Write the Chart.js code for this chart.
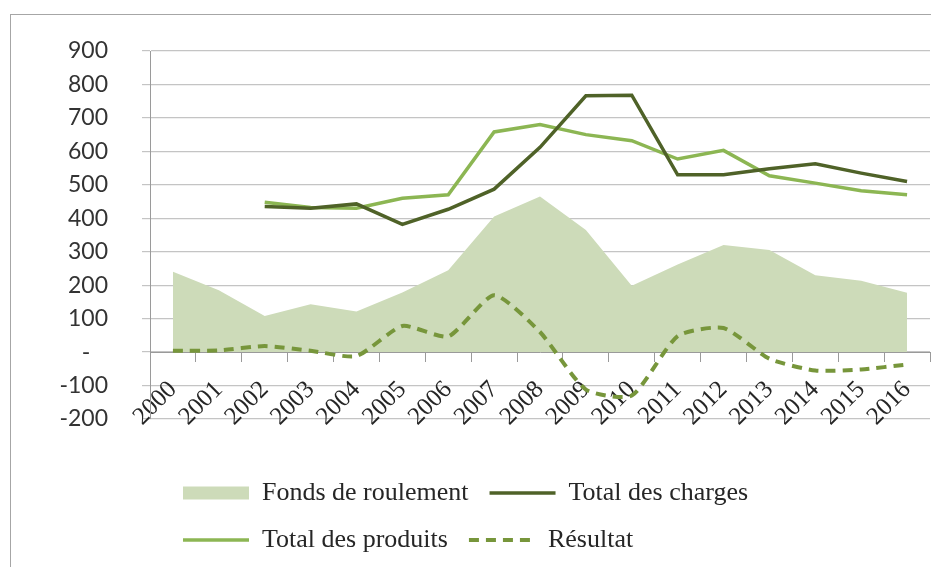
<!DOCTYPE html>
<html><head><meta charset="utf-8">
<script src="https://cdn.jsdelivr.net/npm/chart.js@4/dist/chart.umd.min.js"></script>
<style>
html,body{margin:0;padding:0;background:#fff;overflow:hidden;}
#wrap{position:relative;width:931px;height:567px;}
#frame{position:absolute;left:10px;top:14px;width:1000px;height:1000px;border:1.5px solid #a6a6a6;box-sizing:border-box;}
canvas{position:absolute;left:0;top:0;}
</style></head><body>
<div id="wrap"><div id="frame"></div><canvas id="c" width="931" height="567"></canvas></div>
<script>
const years = ['2000','2001','2002','2003','2004','2005','2006','2007','2008','2009','2010','2011','2012','2013','2014','2015','2016'];
const fondsDeRoulement = [240,185,108,143,121,178,245,405,465,365,198,262,320,305,230,213,177];
const totalDesCharges  = [null,null,435,430,443,382,427,487,612,766,768,530,530,548,563,535,510];
const totalDesProduits = [null,null,448,432,430,460,470,658,680,650,632,577,603,527,505,482,470];
const resultat         = [4,5,18,4,-12,78,47,170,60,-112,-130,48,72,-20,-55,-52,-37];
const yTicks = [-200,-100,0,100,200,300,400,500,600,700,800,900];

const legendPlace = {
  id: 'legendPlace',
  afterLayout(chart) {
    const lg = chart.legend;
    const p = lg.options.labels.padding;
    const left = 183 - p, top = 480 - p;
    lg.left = left; lg.right = left + 700; lg.width = 700;
    const h = lg.height;
    lg.top = top; lg.bottom = top + h;
  }
};

new Chart(document.getElementById('c'), {
  type: 'line',
  data: {
    labels: years,
    datasets: [
      { label: 'Fonds de roulement', data: fondsDeRoulement, fill: 'origin',
        backgroundColor: '#cddbb9', borderColor: '#cddbb9', borderWidth: 0,
        pointRadius: 0, pointStyle: 'rect', tension: 0, order: 10 },
      { label: 'Total des charges', data: totalDesCharges, fill: false,
        borderColor: '#4f6228', backgroundColor: '#4f6228', borderWidth: 3.5,
        pointRadius: 0, pointStyle: 'line', tension: 0, order: 1 },
      { label: 'Total des produits', data: totalDesProduits, fill: false,
        borderColor: '#8cb653', backgroundColor: '#8cb653', borderWidth: 3.5,
        pointRadius: 0, pointStyle: 'line', tension: 0, order: 2 },
      { label: 'Résultat', data: resultat, fill: false,
        borderColor: '#77963b', backgroundColor: '#77963b', borderWidth: 4,
        borderDash: [10, 7], pointRadius: 0, pointStyle: 'line', tension: 0.2, order: 0 }
    ]
  },
  options: {
    responsive: false,
    animation: false,
    devicePixelRatio: 1,
    layout: { padding: { left: 0, right: 1, top: 51, bottom: 44 } },
    plugins: {
      tooltip: { enabled: false },
      legend: {
        position: 'bottom',
        align: 'start',
        labels: {
          usePointStyle: true, pointStyleWidth: 66, boxHeight: 13, padding: 21,
          color: '#262626', font: { family: 'Liberation Serif', size: 26 },
          generateLabels(chart) {
            const items = Chart.defaults.plugins.legend.labels.generateLabels(chart);
            items.forEach(it => {
              const ds = chart.data.datasets[it.datasetIndex];
              it.lineDash = ds.borderDash || [];
              it.lineWidth = ds.borderWidth;
              it.strokeStyle = ds.borderColor;
              it.fillStyle = ds.backgroundColor;
              it.pointStyle = ds.pointStyle;
            });
            return items;
          },
          sort: (a, b) => a.datasetIndex - b.datasetIndex
        }
      }
    },
    scales: {
      x: {
        type: 'category',
        position: { y: 0 },
        offset: true,
        afterFit(scale) { scale.paddingLeft = 0; scale.paddingRight = 0; },
        grid: { offset: true, drawOnChartArea: false, drawTicks: true, tickLength: 9, color: '#9a9a9a' },
        border: { color: '#9a9a9a', width: 1 },
        ticks: { autoSkip: false, minRotation: 45, maxRotation: 45, padding: 14,
          color: '#262626', font: { family: 'Liberation Serif', size: 25 } }
      },
      y: {
        min: -200, max: 900,
        afterFit(scale) { scale.width = 150; },
        afterBuildTicks(scale) { scale.ticks = yTicks.map(v => ({ value: v })); },
        grid: { color: '#c4c4c4', lineWidth: 1.2, tickLength: 8 },
        border: { color: '#9a9a9a', width: 1 },
        ticks: { padding: 34, color: '#333333', font: { family: 'Lato', size: 23 },
          callback: (v) => v === 0 ? '-   ' : String(v) }
      }
    }
  },
  plugins: [legendPlace]
});
</script>
</body></html>
